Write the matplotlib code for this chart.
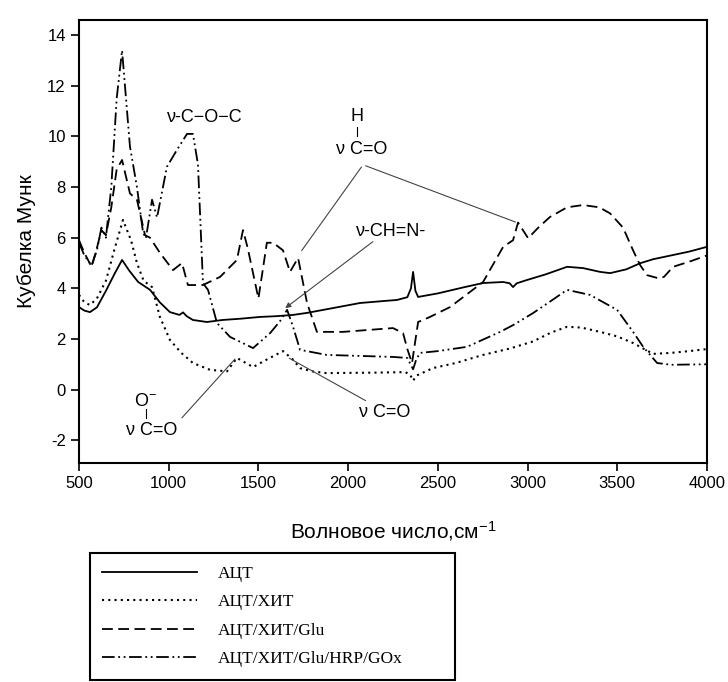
import matplotlib
matplotlib.use("Agg")
import matplotlib.pyplot as plt
from matplotlib.patches import Rectangle

# --- data ---
act_wn = [500, 530, 561, 600, 650, 700, 740, 780, 830, 896, 950, 1007, 1060, 1080, 1100,
          1135, 1213, 1300, 1400, 1509, 1600, 1693, 1771, 1900, 2066, 2200, 2272, 2330,
          2350, 2362, 2375, 2390, 2500, 2650, 2752, 2864, 2900, 2919, 2940, 2997, 3100,
          3220, 3309, 3404, 3460, 3550, 3627, 3700, 3800, 3900, 4000]
act_v = [3.26, 3.12, 3.06, 3.25, 3.9, 4.6, 5.12, 4.7, 4.25, 3.94, 3.45, 3.06, 2.95, 3.05, 2.9,
         2.75, 2.67, 2.75, 2.8, 2.87, 2.9, 2.95, 3.03, 3.2, 3.42, 3.5, 3.54, 3.65,
         4.0, 4.65, 3.9, 3.66, 3.8, 4.05, 4.21, 4.25, 4.2, 4.05, 4.2, 4.33, 4.55,
         4.85, 4.8, 4.65, 4.6, 4.75, 4.99, 5.15, 5.3, 5.45, 5.64]

hit_wn = [500, 530, 561, 600, 650, 700, 745, 790, 823, 860, 907, 951, 1007, 1070, 1135,
          1230, 1325, 1380, 1470, 1550, 1637, 1690, 1732, 1800, 1880, 2000, 2150, 2318,
          2345, 2362, 2380, 2473, 2600, 2752, 2900, 3030, 3130, 3220, 3300, 3404, 3500,
          3588, 3650, 3700, 3800, 3900, 4000]
hit_v = [3.74, 3.45, 3.34, 3.6, 4.3, 5.6, 6.7, 5.9, 5.0, 4.3, 4.05, 2.87, 1.96, 1.45, 1.05,
         0.78, 0.72, 1.25, 0.89, 1.2, 1.52, 1.2, 0.85, 0.72, 0.65, 0.66, 0.67, 0.69,
         0.6, 0.35, 0.55, 0.85, 1.05, 1.37, 1.62, 1.9, 2.25, 2.48, 2.45, 2.28, 2.1,
         1.84, 1.6, 1.41, 1.45, 1.52, 1.6]

glu_wn = [500, 530, 570, 600, 625, 650, 680, 710, 740, 784, 823, 868, 896, 951, 1024,
          1074, 1107, 1190, 1286, 1380, 1414, 1440, 1500, 1547, 1582, 1637, 1676, 1721,
          1771, 1826, 1972, 2250, 2306, 2330, 2356, 2390, 2450, 2568, 2752, 2864, 2919,
          2947, 3003, 3060, 3125, 3220, 3309, 3400, 3460, 3532, 3588, 3627, 3666, 3728,
          3760, 3811, 3900, 4000]
glu_v = [5.9, 5.4, 4.85, 5.6, 6.3, 6.1, 7.2, 8.7, 9.07, 7.75, 7.5, 6.1, 6.0, 5.4, 4.72,
         5.0, 4.13, 4.13, 4.45, 5.12, 6.3, 5.6, 3.6, 5.8, 5.8, 5.5, 4.65, 5.2,
         3.42, 2.28, 2.28, 2.43, 2.23, 1.6, 1.05, 2.67, 2.85, 3.26, 4.25, 5.64, 5.9,
         6.6, 5.98, 6.4, 6.82, 7.2, 7.29, 7.2, 6.96, 6.4, 5.5, 4.92, 4.52, 4.4,
         4.45, 4.85, 5.05, 5.3]

gox_wn = [500, 530, 570, 600, 625, 650, 680, 710, 740, 784, 823, 857, 873, 907, 935,
          990, 1046, 1102, 1135, 1163, 1191, 1219, 1269, 1342, 1470, 1565, 1620, 1660,
          1693, 1732, 1880, 2250, 2330, 2362, 2380, 2401, 2500, 2663, 2847, 2920, 3030,
          3130, 3220, 3348, 3499, 3588, 3644, 3722, 3800, 4000]
gox_v = [5.8, 5.3, 4.9, 5.5, 6.4, 6.0, 8.0, 11.5, 13.4, 9.6, 8.0, 6.2, 5.98, 7.5, 6.8,
         8.8, 9.47, 10.1, 10.1, 8.9, 4.2, 3.94, 2.63, 2.08, 1.64, 2.23, 2.7, 3.15,
         2.48, 1.57, 1.37, 1.29, 1.25, 0.8, 1.2, 1.45, 1.52, 1.69, 2.28, 2.55, 3.02,
         3.5, 3.94, 3.74, 3.15, 2.28, 1.69, 1.05, 0.98, 1.0]

labels = ["АЦТ", "АЦТ/ХИТ", "АЦТ/ХИТ/Glu", "АЦТ/ХИТ/Glu/HRP/GOx"]
x_ticks = [500, 1000, 1500, 2000, 2500, 3000, 3500, 4000]
y_ticks = [-2, 0, 2, 4, 6, 8, 10, 12, 14]

plt.rcParams["font.family"] = ["Liberation Sans", "DejaVu Sans"]
plt.rcParams["mathtext.default"] = "regular"
plt.rcParams["axes.unicode_minus"] = False

fig = plt.figure(figsize=(7.28, 6.82), dpi=100)
ax = fig.add_axes([79 / 728, 1 - 463 / 682, 628 / 728, 443 / 682])

lw = 1.3
ax.plot(act_wn, act_v, color="black", lw=lw, ls="-", label=labels[0])
ax.plot(hit_wn, hit_v, color="black", lw=1.5, ls=(0, (1, 2)), label=labels[1])
ax.plot(glu_wn, glu_v, color="black", lw=lw, ls=(0, (6, 3)), label=labels[2])
ax.plot(gox_wn, gox_v, color="black", lw=lw, ls=(0, (7, 2, 1, 2, 1, 2)), label=labels[3])

ax.set_xlim(500, 4000)
ax.set_ylim(-2.9, 14.6)
ax.set_xticks(x_ticks)
ax.set_yticks(y_ticks)
ax.tick_params(direction="out", length=6, width=1.2, labelsize=12, top=False, right=False)
for s in ax.spines.values():
    s.set_linewidth(1.5)

ax.set_xlabel("Волновое число,см$^{-1}$", fontsize=15, labelpad=20)
ax.set_ylabel("Кубелка Мунк", fontsize=15, labelpad=8)

# annotations
afs = 13
lc = "#444444"
ax.text(1200, 10.75, "ν-C−O−C", fontsize=afs, ha="center", va="center")
ax.text(2050, 10.77, "H", fontsize=afs, ha="center", va="center")
ax.plot([2050, 2050], [10.38, 10.0], color="black", lw=0.8)
ax.text(2077, 9.47, "ν C=O", fontsize=afs, ha="center", va="center")
ax.annotate("", xy=(1732, 5.4), xytext=(2083, 8.88),
            arrowprops=dict(arrowstyle="-", color=lc, lw=0.8))
ax.annotate("", xy=(2947, 6.58), xytext=(2083, 8.88),
            arrowprops=dict(arrowstyle="-", color=lc, lw=0.8))

ax.text(2239, 6.23, "ν-CH=N-", fontsize=afs, ha="center", va="center")
ax.annotate("", xy=(1637, 3.15), xytext=(2150, 5.91),
            arrowprops=dict(arrowstyle="-|>", color=lc, lw=0.8, mutation_scale=8))

ax.text(868, -0.49, "O$^{-}$", fontsize=afs, ha="center", va="center")
ax.plot([872, 872], [-0.75, -1.12], color="black", lw=0.8)
ax.text(907, -1.6, "ν C=O", fontsize=afs, ha="center", va="center")
ax.annotate("", xy=(1380, 1.29), xytext=(1063, -1.2),
            arrowprops=dict(arrowstyle="-", color=lc, lw=0.8))

ax.text(2206, -0.92, "ν C=O", fontsize=afs, ha="center", va="center")
ax.annotate("", xy=(1659, 1.29), xytext=(2111, -0.49),
            arrowprops=dict(arrowstyle="-", color=lc, lw=0.8))

# legend in a separate box under the plot
fig.add_artist(Rectangle((90 / 728, 1 - 680 / 682), 365 / 728, 127 / 682,
                         transform=fig.transFigure, fill=False, edgecolor="black", lw=1.5))
leg = ax.legend(loc="upper left", bbox_to_anchor=(102 / 728, 1 - 566 / 682),
                bbox_transform=fig.transFigure, frameon=False, borderpad=0,
                borderaxespad=0, handlelength=5.5, handletextpad=1.2, labelspacing=0.7,
                prop={"family": "Liberation Serif", "size": 12.5})

plt.savefig("out.png", dpi=100)
